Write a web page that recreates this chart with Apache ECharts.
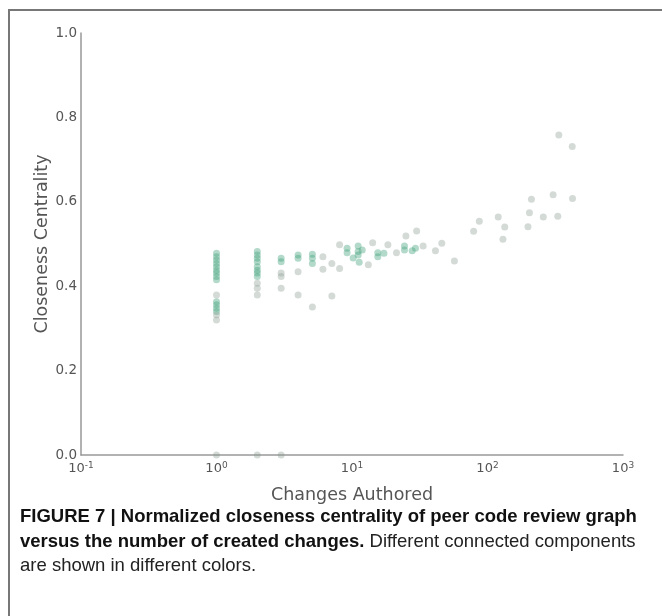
<!DOCTYPE html>
<html>
<head>
<meta charset="utf-8">
<script src="https://cdn.jsdelivr.net/npm/echarts@6/dist/echarts.min.js"></script>
<style>
  html, body { margin: 0; padding: 0; background: #ffffff; }
  #frame { position: absolute; left: 8px; top: 9px; width: 700px; height: 700px;
           border-left: 2px solid #777; border-top: 2px solid #777; box-sizing: border-box; }
  #chart { position: absolute; left: 0; top: 0; width: 662px; height: 616px; }
  #caption { position: absolute; left: 20px; top: 504px; font-family: "Liberation Sans Narrow", "Liberation Sans", Arial, sans-serif;
             font-size: 18.5px; line-height: 24.5px; color: #222; white-space: nowrap; }
  #caption b { color: #111; }
</style>
</head>
<body>
<div id="frame"></div>
<div id="chart"></div>
<div id="caption"><b>FIGURE 7 | Normalized closeness centrality of peer code review graph<br>versus the number of created changes.</b> Different connected components<br>are shown in different colors.</div>
<script>
// Component A (teal points): [changes authored, closeness centrality]
const componentA = [
  [1, 0.478], [1, 0.470], [1, 0.462], [1, 0.454], [1, 0.446], [1, 0.438], [1, 0.431], [1, 0.423], [1, 0.415],
  [1, 0.363], [1, 0.356], [1, 0.348], [1, 0.340],
  [2, 0.482], [2, 0.474], [2, 0.466], [2, 0.458], [2, 0.446], [2, 0.438], [2, 0.431], [2, 0.423],
  [3, 0.466], [3, 0.458],
  [4, 0.474], [4, 0.466],
  [5.1, 0.476], [5.1, 0.466], [5.1, 0.454],
  [9.2, 0.490], [9.2, 0.479],
  [10.2, 0.467],
  [11.1, 0.495], [11.1, 0.482], [11.1, 0.474], [11.3, 0.457], [11.9, 0.486],
  [15.5, 0.479], [15.5, 0.470], [17.2, 0.478],
  [24.4, 0.495], [24.4, 0.486], [27.8, 0.484], [29.4, 0.490]
];
// Other components (gray points)
const componentB = [
  [1, 0.379], [1, 0.332], [1, 0.320], [1, 0.0],
  [2, 0.407], [2, 0.395], [2, 0.379], [2, 0.0],
  [3, 0.431], [3, 0.423], [3, 0.395], [3, 0.0],
  [4, 0.434], [4, 0.379],
  [5.1, 0.351],
  [6.1, 0.470], [6.1, 0.440],
  [7.1, 0.454], [7.1, 0.377],
  [8.1, 0.498], [8.1, 0.442],
  [13.2, 0.451], [14.2, 0.503], [18.4, 0.498], [21.3, 0.479],
  [25, 0.519], [30, 0.531], [33.5, 0.495], [41.3, 0.484], [46, 0.502], [57, 0.460],
  [79, 0.530], [87, 0.554], [120, 0.564], [130, 0.511], [134, 0.540],
  [199, 0.541], [204, 0.574], [211, 0.606], [258, 0.564], [305, 0.617], [330, 0.566],
  [336, 0.758], [422, 0.731], [424, 0.608]
];
const xTickExponents = [-1, 0, 1, 2, 3];
const yTicks = [0.0, 0.2, 0.4, 0.6, 0.8, 1.0];

const chart = echarts.init(document.getElementById('chart'), null, { renderer: 'canvas' });
const axisFont = 'DejaVu Sans';
chart.setOption({
  backgroundColor: 'transparent',
  animation: false,
  grid: { left: 81, top: 33, right: 39, bottom: 161, containLabel: false },
  xAxis: {
    type: 'log', logBase: 10,
    min: Math.pow(10, xTickExponents[0]), max: Math.pow(10, xTickExponents[xTickExponents.length - 1]),
    name: 'Changes Authored', nameLocation: 'middle', nameGap: 31, nameMoveOverlap: false,
    nameTextStyle: { fontFamily: axisFont, fontSize: 17.5, color: '#555' },
    axisLine: { show: true, lineStyle: { color: '#999', width: 1.5 } },
    axisTick: { show: false },
    splitLine: { show: false },
    minorTick: { show: false },
    axisLabel: {
      margin: 6, color: '#555', fontFamily: axisFont, fontSize: 13,
      formatter: function (v) {
        const e = Math.round(Math.log10(v));
        return '{b|10}{s|' + e + '}';
      },
      rich: {
        b: { fontFamily: axisFont, fontSize: 13, color: '#555', lineHeight: 16 },
        s: { fontFamily: axisFont, fontSize: 9, color: '#555', lineHeight: 16, verticalAlign: 'top', padding: [0, 0, 8, 0] }
      }
    }
  },
  yAxis: {
    type: 'value', min: yTicks[0], max: yTicks[yTicks.length - 1], interval: 0.2,
    name: 'Closeness Centrality', nameLocation: 'middle', nameGap: 30, nameRotate: 90, nameMoveOverlap: false,
    nameTextStyle: { fontFamily: axisFont, fontSize: 17.5, color: '#555' },
    axisLine: { show: true, lineStyle: { color: '#999', width: 1.5 } },
    axisTick: { show: false },
    splitLine: { show: false },
    axisLabel: {
      margin: 4, color: '#555', fontFamily: axisFont, fontSize: 13.5,
      formatter: function (v) { return v.toFixed(1); }
    }
  },
  series: [
    {
      name: 'Component A', type: 'scatter', data: componentA, symbolSize: 7,
      itemStyle: { color: 'rgba(62,160,122,0.5)' }
    },
    {
      name: 'Other components', type: 'scatter', data: componentB, symbolSize: 7,
      itemStyle: { color: 'rgba(135,155,145,0.45)' }
    }
  ]
});
</script>
</body>
</html>
